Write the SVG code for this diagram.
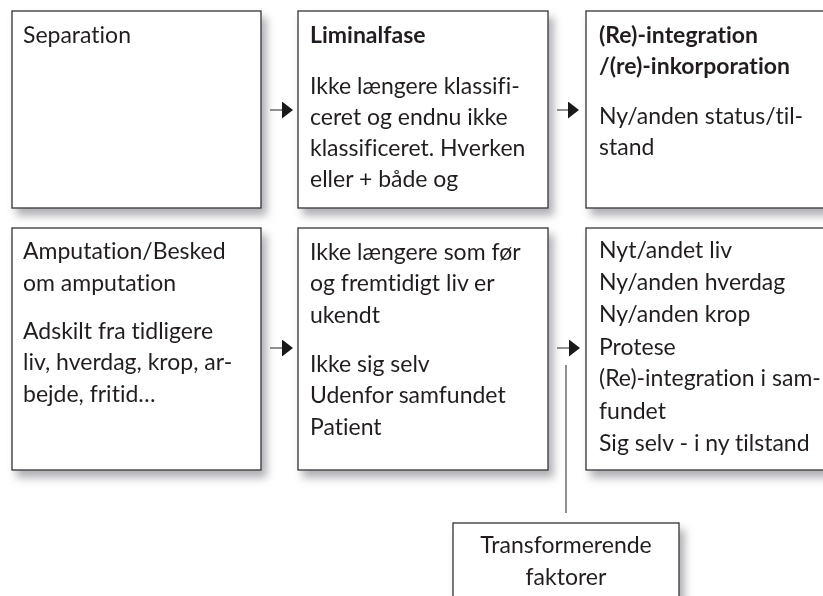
<svg xmlns="http://www.w3.org/2000/svg" width="823" height="596" viewBox="0 0 823 596">
<defs>
<filter id="sh" x="-10%" y="-10%" width="130%" height="140%">
<feGaussianBlur in="SourceAlpha" stdDeviation="4.5"/>
<feOffset dx="5" dy="7" result="b"/>
<feFlood flood-color="#6d6d78" flood-opacity="0.55"/>
<feComposite in2="b" operator="in"/>
<feMerge><feMergeNode/><feMergeNode in="SourceGraphic"/></feMerge>
</filter>
<marker id="ah" markerUnits="userSpaceOnUse" markerWidth="12" markerHeight="18" refX="10" refY="8.5" orient="auto">
<path d="M0,0 L11,8.5 L0,17 z" fill="#1a1a1a"/>
</marker>
</defs>
<style>
.box{fill:#fff;stroke:#333;stroke-width:1.3}
text{font-family:Lato,"Open Sans","Liberation Sans",sans-serif;font-size:23px;fill:#231f20;font-variant-ligatures:none;font-feature-settings:"liga" 0,"clig" 0}
.b{font-weight:bold}
.c{text-anchor:middle}
.con{stroke:#555;stroke-width:1.3;fill:none}
</style>
<rect width="823" height="596" fill="#fff"/>
<g id="n1" filter="url(#sh)"><rect class="box" x="12" y="11" width="249" height="197"/><text x="23" y="43">Separation</text></g>
<g id="n2" filter="url(#sh)"><rect class="box" x="298" y="11" width="250" height="197"/>
<text x="310" y="43" class="b">Liminalfase</text>
<text x="310" y="94">Ikke længere klassifi-</text>
<text x="310" y="125">ceret og endnu ikke</text>
<text x="310" y="156">klassificeret. Hverken</text>
<text x="310" y="187">eller + både og</text></g>
<g id="n3" filter="url(#sh)"><rect class="box" x="586" y="11" width="260" height="197"/>
<text x="599" y="43" class="b">(Re)-integration</text>
<text x="599" y="74" class="b">/(re)-inkorporation</text>
<text x="599" y="124">Ny/anden status/til-</text>
<text x="599" y="155">stand</text></g>
<g id="n4" filter="url(#sh)"><rect class="box" x="12" y="228" width="249" height="242"/>
<text x="23" y="259">Amputation/Besked</text>
<text x="23" y="291">om amputation</text>
<text x="23" y="339">Adskilt fra tidligere</text>
<text x="23" y="370">liv, hverdag, krop, ar-</text>
<text x="23" y="402">bejde, fritid…</text></g>
<g id="n5" filter="url(#sh)"><rect class="box" x="298" y="228" width="250" height="242"/>
<text x="310" y="260">Ikke længere som før</text>
<text x="310" y="291">og fremtidigt liv er</text>
<text x="310" y="323">ukendt</text>
<text x="310" y="372">Ikke sig selv</text>
<text x="310" y="403">Udenfor samfundet</text>
<text x="310" y="435">Patient</text></g>
<g id="n6" filter="url(#sh)"><rect class="box" x="586" y="228" width="260" height="242"/>
<text x="599" y="258">Nyt/andet liv</text>
<text x="599" y="290">Ny/anden hverdag</text>
<text x="599" y="322">Ny/anden krop</text>
<text x="599" y="355">Protese</text>
<text x="599" y="386">(Re)-integration i sam-</text>
<text x="599" y="419">fundet</text>
<text x="599" y="451">Sig selv - i ny tilstand</text></g>
<g id="n7" filter="url(#sh)"><rect class="box" x="453" y="523" width="226" height="100"/>
<text x="566" y="553" class="c">Transformerende</text>
<text x="566" y="585" class="c">faktorer</text></g>
<g id="connectors">
<line class="con" x1="270" y1="110" x2="292" y2="110" marker-end="url(#ah)"/>
<line class="con" x1="557" y1="110" x2="578" y2="110" marker-end="url(#ah)"/>
<line class="con" x1="270" y1="348" x2="292" y2="348" marker-end="url(#ah)"/>
<line class="con" x1="557" y1="348" x2="579" y2="348" marker-end="url(#ah)"/>
<line class="con" x1="566" y1="365" x2="566" y2="513"/>
</g>
</svg>
